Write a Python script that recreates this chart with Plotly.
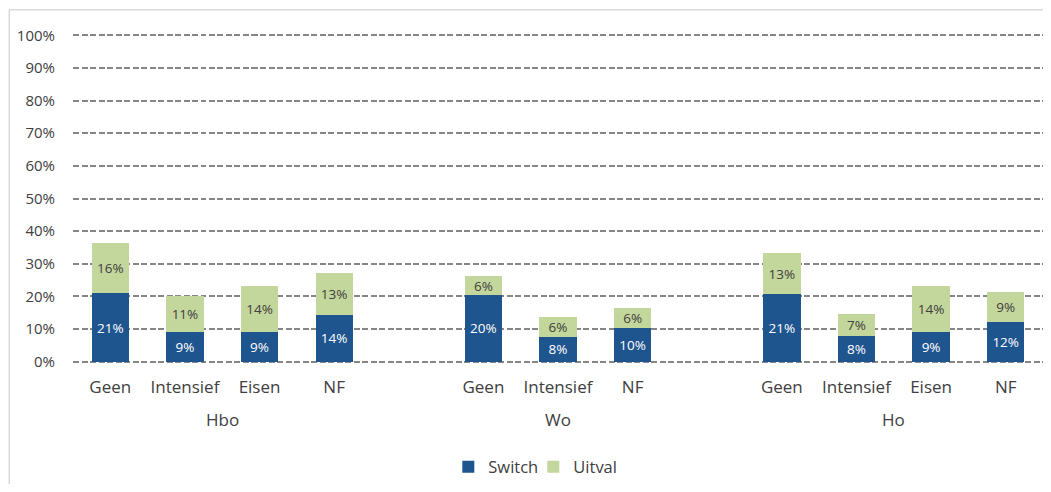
import plotly.graph_objects as go

# ---- data ----
groups = ["Hbo", "Wo", "Ho"]
categories = [
    ["Geen", "Intensief", "Eisen", "NF"],
    ["Geen", "Intensief", "NF"],
    ["Geen", "Intensief", "Eisen", "NF"],
]
switch = [
    [20.9, 9.2, 9.2, 14.3],
    [20.4, 7.6, 10.4],
    [20.7, 7.9, 9.1, 12.1],
]
uitval = [
    [15.6, 10.9, 13.9, 12.8],
    [5.8, 6.0, 6.2],
    [12.6, 6.7, 14.0, 9.2],
]
y_tick_values = list(range(0, 101, 10))
y_tick_labels = [f"{v}%" for v in y_tick_values]

series_names = ["Switch", "Uitval"]
series_colors = ["#1F558F", "#C3D69B"]
text_colors = ["#FFFFFF", "#404040"]

# ---- positions: one empty slot between groups ----
xs, xlabels, sw, uv, group_centers = [], [], [], [], []
pos = 0
for g, cats, s_vals, u_vals in zip(groups, categories, switch, uitval):
    start = pos
    for c, s, u in zip(cats, s_vals, u_vals):
        xs.append(pos)
        xlabels.append(c)
        sw.append(s)
        uv.append(u)
        pos += 1
    group_centers.append((start + pos - 1) / 2)
    pos += 1
last_x = xs[-1]

# page body has an 8px margin; size the figure to fill the window exactly
OFF = 8
W, H = 1051 - 2 * OFF, 492 - 2 * OFF
Y_RANGE = [-0.7, 100.7]
# target (screen) positions of the plot area
scr_left, scr_right = 72.5, W + OFF
scr_zero, scr_hundred = 361.7, 35.0
px_per_unit = (scr_zero - scr_hundred) / 100
scr_bottom = scr_zero + (0 - Y_RANGE[0]) * px_per_unit
scr_top = scr_hundred - (Y_RANGE[1] - 100) * px_per_unit
ML = scr_left - OFF
MR = (W + OFF) - scr_right
MT = scr_top - OFF
MB = (H + OFF) - scr_bottom
plot_w = W - ML - MR
plot_h = H - MT - MB

FONT = "Open Sans"

fig = go.Figure()
for name, vals, col, tcol in zip(series_names, [sw, uv], series_colors, text_colors):
    fig.add_trace(go.Bar(
        x=xs, y=vals, name=name, width=0.5,
        marker=dict(color=col, line=dict(width=0)),
        text=[f"{round(v)}%" for v in vals],
        textposition="inside", insidetextanchor="middle", textangle=0,
        constraintext="none",
        textfont=dict(color=tcol, size=13.5, family=FONT),
        hoverinfo="skip",
    ))


def px_to_paper_x(sx):
    return (sx - OFF - ML) / plot_w


def px_to_paper_y(sy):
    return (H - MB - (sy - OFF)) / plot_h


annotations = []
for g, cx in zip(groups, group_centers):
    annotations.append(dict(
        x=cx, y=px_to_paper_y(420), xref="x", yref="paper", text=g,
        showarrow=False, yanchor="middle",
        font=dict(size=17, color="#404040", family=FONT),
    ))

shapes = [
    dict(type="line", xref="paper", yref="paper",
         x0=px_to_paper_x(OFF + 0.75), x1=px_to_paper_x(W + OFF + 2),
         y0=px_to_paper_y(9.5), y1=px_to_paper_y(9.5),
         line=dict(color="#D9D9D9", width=1.5)),
    dict(type="line", xref="paper", yref="paper",
         x0=px_to_paper_x(OFF + 0.75), x1=px_to_paper_x(OFF + 0.75),
         y0=px_to_paper_y(9.5), y1=px_to_paper_y(H + OFF + 2),
         line=dict(color="#D9D9D9", width=1.5)),
]

fig.update_layout(
    width=W, height=H,
    margin=dict(l=ML, r=MR, t=MT, b=MB, autoexpand=False),
    paper_bgcolor="white", plot_bgcolor="white",
    barmode="stack",
    font=dict(family=FONT, color="#404040"),
    showlegend=True,
    legend=dict(
        orientation="h", x=px_to_paper_x(448), xanchor="left",
        y=px_to_paper_y(467), yanchor="middle",
        font=dict(size=16.5, color="#404040", family=FONT),
        itemwidth=30, traceorder="normal",
        entrywidth=40, entrywidthmode="pixels",
    ),
    annotations=annotations,
    shapes=shapes,
)
fig.update_xaxes(
    range=[-0.5, last_x + 0.5],
    tickmode="array", tickvals=xs, ticktext=xlabels,
    ticks="", showgrid=False, zeroline=False, showline=False,
    tickfont=dict(size=17, color="#404040", family=FONT),
    ticklabelstandoff=11,
)
fig.update_yaxes(
    range=Y_RANGE,
    tickmode="array", tickvals=y_tick_values, ticktext=y_tick_labels,
    ticks="", showgrid=True, gridcolor="#868686", gridwidth=1.5,
    griddash="6px,2.5px", zeroline=False, showline=False,
    tickfont=dict(size=15, color="#404040", family=FONT),
    ticklabelstandoff=17,
)

fig.write_html("out.html")
